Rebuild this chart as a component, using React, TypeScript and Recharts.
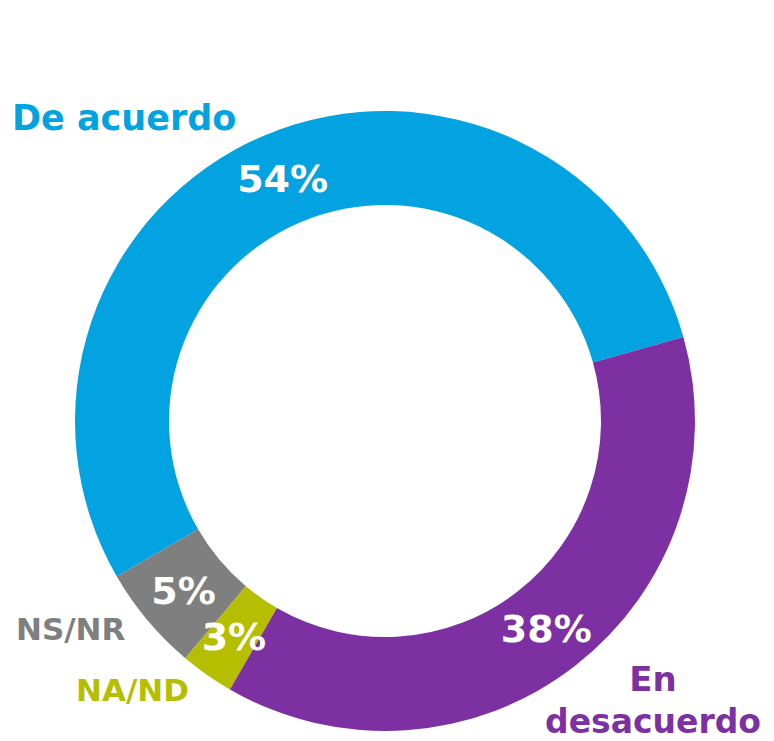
import { PieChart, Pie, Cell } from "recharts";

const categorias = ["De acuerdo", "NS/NR", "NA/ND", "En desacuerdo"];
const valores = [54.0, 5.5, 2.8, 37.7];
const etiquetas = ["54%", "5%", "3%", "38%"];
const colores = ["#02a3e0", "#7f7f7f", "#b6be00", "#7d30a2"];

const data = categorias.map((nombre, i) => ({
  nombre,
  valor: valores[i],
  etiqueta: etiquetas[i],
}));

const FUENTE = "'DejaVu Sans', 'Open Sans', sans-serif";
const RAD = Math.PI / 180;

function EtiquetaPorcentaje(props: any) {
  const { cx, cy, midAngle, innerRadius, outerRadius, index } = props;
  const r = (innerRadius + outerRadius) / 2;
  const x = cx + r * Math.cos(-midAngle * RAD);
  const y = cy + r * Math.sin(-midAngle * RAD);
  return (
    <text
      x={x}
      y={y}
      dy="0.36em"
      textAnchor="middle"
      fill="#ffffff"
      fontFamily={FUENTE}
      fontWeight={700}
      fontSize={38}
    >
      {etiquetas[index]}
    </text>
  );
}

export default function App() {
  return (
    <div style={{ position: "relative", width: 774, height: 741, background: "#fff" }}>
      <style>{`body{margin:0}`}</style>
      <PieChart width={774} height={741} margin={{ top: 0, right: 0, bottom: 0, left: 0 }}>
        <Pie
          data={data}
          dataKey="valor"
          nameKey="nombre"
          cx={385}
          cy={421}
          innerRadius={216}
          outerRadius={310}
          startAngle={15.7}
          endAngle={375.7}
          stroke="none"
          labelLine={false}
          label={EtiquetaPorcentaje}
          isAnimationActive={false}
        >
          {data.map((d, i) => (
            <Cell key={d.nombre} fill={colores[i]} />
          ))}
        </Pie>
      </PieChart>

      {/* nombres de categoría fuera del anillo */}
      <svg
        width={774}
        height={741}
        style={{ position: "absolute", left: 0, top: 0, pointerEvents: "none" }}
        fontFamily={FUENTE}
        fontWeight={700}
      >
        <text x={12} y={130} fontSize={35} fill={colores[0]}>
          {categorias[0]}
        </text>
        <text x={16} y={640} fontSize={31} fill={colores[1]}>
          {categorias[1]}
        </text>
        <text x={76} y={701} fontSize={31} fill={colores[2]}>
          {categorias[2]}
        </text>
        <text x={653} y={691} fontSize={34} fill={colores[3]} textAnchor="middle">
          En
        </text>
        <text x={653} y={733} fontSize={33} fill={colores[3]} textAnchor="middle">
          desacuerdo
        </text>
      </svg>
    </div>
  );
}
